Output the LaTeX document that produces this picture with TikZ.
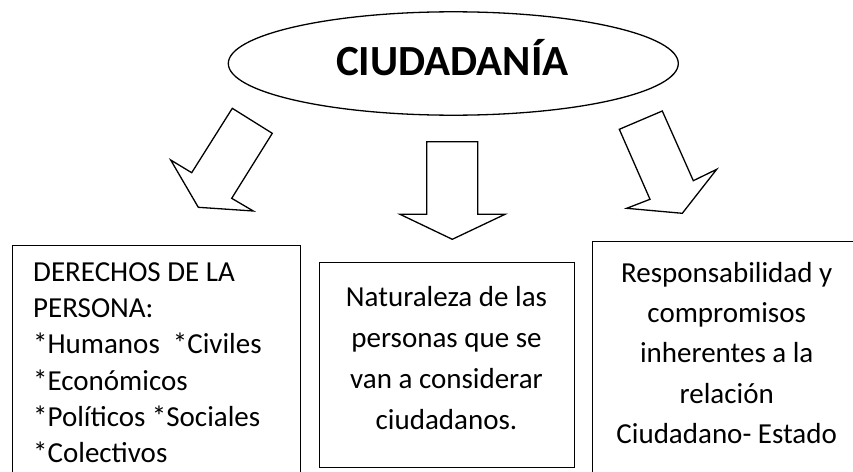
\documentclass[tikz,border=0pt]{standalone}
\usepackage{fontspec}
\setmainfont{Carlito}
\usetikzlibrary{shapes.geometric}
\begin{document}
\begin{tikzpicture}[x=1pt,y=-1pt,
  outl/.style={draw=black, line width=1.3pt},
  boxtxt/.style={inner sep=0pt, font=\fontsize{29}{36.3}\selectfont},
  blockarrow/.style={draw=black, line width=1.3pt, fill=white, line join=miter}]
\path[use as bounding box] (0,0) rectangle (853,471);
\clip (0,0) rectangle (853,471);
% title ellipse
\node[ellipse, outl, minimum width=450pt, minimum height=103.4pt, inner sep=0pt] (ell) at (453.3,63.5) {};
\node[anchor=base, inner sep=0pt, font=\fontsize{43}{50}\selectfont\bfseries] (title) at (452.3,75) {CIUDADANÍA};
% block arrows
\draw[blockarrow] (232.3,108.3) -- (272.3,133.3) -- (231.7,198.3) -- (253.3,211) -- (198.3,207.3) -- (170.7,160) -- (191.7,172.7) -- cycle;
\draw[blockarrow] (426.7,141.7) -- (477.7,141.7) -- (477.7,214.3) -- (505,214.3) -- (452.3,239.3) -- (400,214.3) -- (426.7,214.3) -- cycle;
\draw[blockarrow] (619.3,129.3) -- (662.3,111) -- (693.3,180.7) -- (716.7,169.3) -- (682.3,213.3) -- (626.7,208.3) -- (650,199.3) -- cycle;
% boxes
\node[outl, anchor=north west, minimum width=288pt, minimum height=250pt, inner sep=0pt] (b1) at (12,245) {};
\node[outl, anchor=north west, minimum width=255pt, minimum height=205pt, inner sep=0pt] (b2) at (319,261.7) {};
\node[outl, anchor=north west, minimum width=270pt, minimum height=260pt, inner sep=0pt] (b3) at (591.7,240.7) {};
% texts
\node[boxtxt, anchor=north west, align=left] (t1) at (33,256) {\rule{0pt}{25pt}DERECHOS DE LA\\PERSONA:\\*Humanos\ \ *Civiles\\*Económicos\\*Políticos *Sociales\\*Colectivos};
\node[boxtxt, anchor=north, align=center, font=\fontsize{29}{41}\selectfont] (t2) at (446.5,281) {\rule{0pt}{25pt}Naturaleza de las\\personas que se\\van a considerar\\ciudadanos.};
\node[boxtxt, anchor=north, align=center, font=\fontsize{29}{40.3}\selectfont] (t3) at (726.7,257) {\rule{0pt}{25pt}Responsabilidad y\\compromisos\\inherentes a la\\relación\\Ciudadano- Estado};
\end{tikzpicture}
\end{document}
